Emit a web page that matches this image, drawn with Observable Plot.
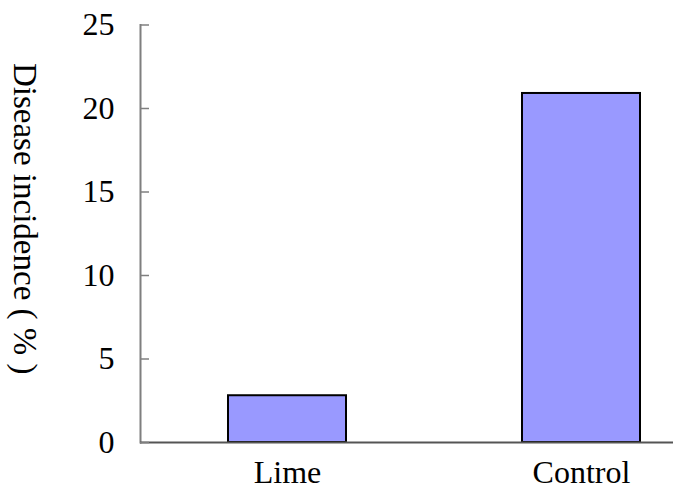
<!DOCTYPE html>
<html><head><meta charset="utf-8">
<script src="https://cdn.jsdelivr.net/npm/d3@7"></script>
<script src="https://cdn.jsdelivr.net/npm/@observablehq/plot@0.6"></script>
<style>body{margin:0;background:#fff}</style>
</head><body><div id="chart"></div>
<script>
const categories = ["Lime", "Control"];
const values = [2.8, 20.9];
const yTicks = [0, 5, 10, 15, 20, 25];
const yLabel = "Disease incidence ( % )";
const data = categories.map((c, i) => ({category: c, value: values[i]}));

const chart = Plot.plot({
  width: 673, height: 488,
  marginLeft: 140, marginRight: 0, marginTop: 24.5, marginBottom: 46,
  style: {fontFamily: "'Liberation Serif', 'Times New Roman', serif", fontSize: "32px", background: "white", color: "black"},
  x: {domain: categories, range: [140, 728], paddingInner: 0.6, paddingOuter: 0.3, label: null},
  y: {domain: [0, 25], label: null},
  marks: [
    Plot.barY(data, {x: "category", y: "value", fill: "#9999ff", stroke: "black", strokeWidth: 2}),
    Plot.frame({anchor: "left", stroke: "#7f7f7f", strokeWidth: 2}),
    Plot.ruleY([0], {stroke: "#555555", strokeWidth: 2}),
    Plot.axisY(yTicks, {tickSize: -9, tickPadding: 35, stroke: "#7f7f7f", strokeWidth: 1.5, fontSize: 32, label: null}),
    Plot.axisX({tickSize: 0, tickPadding: 18, fontSize: 32, label: null}),
    Plot.text([yLabel], {text: d => d, frameAnchor: "left", textAnchor: "middle", rotate: 90, dx: -116, dy: -15, fontSize: 33, fill: "black"})
  ]
});
document.getElementById("chart").append(chart);
</script>
</body></html>
